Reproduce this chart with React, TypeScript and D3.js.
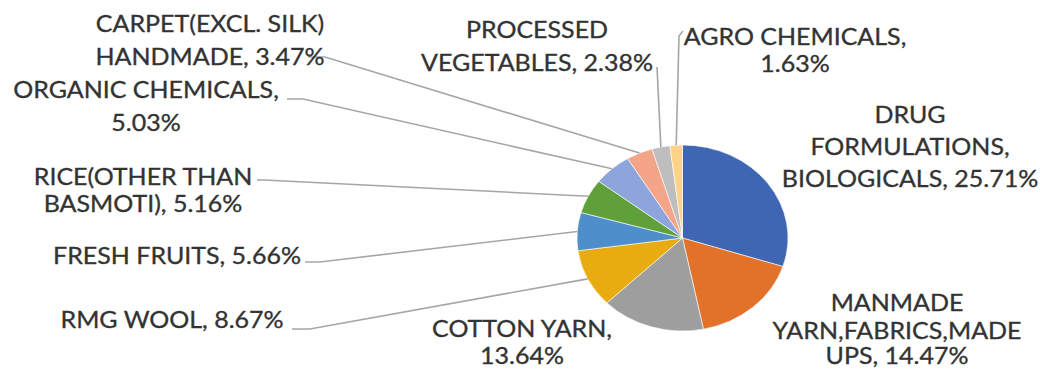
import React from "react";
import * as d3 from "d3";

const categories = [
  "DRUG FORMULATIONS, BIOLOGICALS",
  "MANMADE YARN,FABRICS,MADE UPS",
  "COTTON YARN",
  "RMG WOOL",
  "FRESH FRUITS",
  "RICE(OTHER THAN BASMOTI)",
  "ORGANIC CHEMICALS",
  "CARPET(EXCL. SILK) HANDMADE",
  "PROCESSED VEGETABLES",
  "AGRO CHEMICALS",
];
const values = [25.71, 14.47, 13.64, 8.67, 5.66, 5.16, 5.03, 3.47, 2.38, 1.63];
const colors = [
  "#3F66B2", "#E2712A", "#9E9E9E", "#E9AC10", "#4E8ECB",
  "#5FA03A", "#8EA5DC", "#F3A489", "#BEBEBE", "#FDD387",
];
// label wrapping (text lines as in the reference)
const labelLines = [
  ["DRUG", "FORMULATIONS,", "BIOLOGICALS, 25.71%"],
  ["MANMADE", "YARN,FABRICS,MADE", "UPS, 14.47%"],
  ["COTTON YARN,", "13.64%"],
  ["RMG WOOL, 8.67%"],
  ["FRESH FRUITS, 5.66%"],
  ["RICE(OTHER THAN", "BASMOTI), 5.16%"],
  ["ORGANIC CHEMICALS,", "5.03%"],
  ["CARPET(EXCL. SILK)", "HANDMADE, 3.47%"],
  ["PROCESSED", "VEGETABLES, 2.38%"],
  ["AGRO CHEMICALS,", "1.63%"],
];
// layout: label centre x, baselines, and leader start (null = no leader)
const labelLayout = [
  { x: 910, ys: [123, 155, 187], lead: null },
  { x: 897, ys: [311, 339, 364], lead: null },
  { x: 522, ys: [337, 364], lead: null },
  { x: 172, ys: [328], lead: [[292, 329], [310, 329]] },
  { x: 177, ys: [264], lead: [[305, 262], [320, 262]] },
  { x: 143, ys: [185, 212], lead: [[257, 180], [264, 180]] },
  { x: 146, ys: [98, 131], lead: [[287, 99], [303, 99]] },
  { x: 210, ys: [32, 65], lead: [[308, 57], [325, 57]] },
  { x: 537, ys: [38, 71], lead: [[657, 67], [657, 67]] },
  { x: 795, ys: [45, 72], lead: [[683, 31], [679, 36]] },
];

const W = 1040;
const H = 369;
const cx = 682.5;
const cy = 238;
const rx = 105.5;
const ry = 93;
const squash = ry / rx;
const fontSize = 25;

export default function App() {
  const pie = d3.pie<number>().sort(null).value((d) => d);
  const arcs = pie(values);
  const arc = d3.arc<d3.PieArcDatum<number>>().innerRadius(0).outerRadius(rx);
  const line = d3.line();

  return (
    <svg
      width={W}
      height={H}
      style={{ position: "absolute", left: 0, top: 0, background: "#fff" }}
    >
      <rect width={W} height={H} fill="#fff" />
      <g transform={`translate(${cx},${cy}) scale(1,${squash})`}>
        {arcs.map((a, i) => (
          <path
            key={categories[i]}
            d={arc(a) || ""}
            fill={colors[i]}
            stroke="#fff"
            strokeWidth={0.6}
            vectorEffect="non-scaling-stroke"
          />
        ))}
      </g>
      {arcs.map((a, i) => {
        const L = labelLayout[i];
        if (!L.lead) return null;
        const mid = (a.startAngle + a.endAngle) / 2;
        const end: [number, number] = [cx + rx * Math.sin(mid), cy - ry * Math.cos(mid)];
        const pts = [...(L.lead as [number, number][]), end];
        return (
          <path
            key={"l" + i}
            d={line(pts) || ""}
            fill="none"
            stroke="#A6A6A6"
            strokeWidth={1.6}
          />
        );
      })}
      {labelLines.map((lines, i) =>
        lines.map((t, j) => (
          <text
            key={i + "-" + j}
            transform={`translate(${labelLayout[i].x},${labelLayout[i].ys[j]}) scale(1,0.9)`}
            textAnchor="middle"
            fontFamily="Lato, 'Open Sans', sans-serif"
            fontSize={fontSize}
            fill="#333"
            stroke="#333"
            strokeWidth={0.35}
          >
            {t}
          </text>
        ))
      )}
    </svg>
  );
}
